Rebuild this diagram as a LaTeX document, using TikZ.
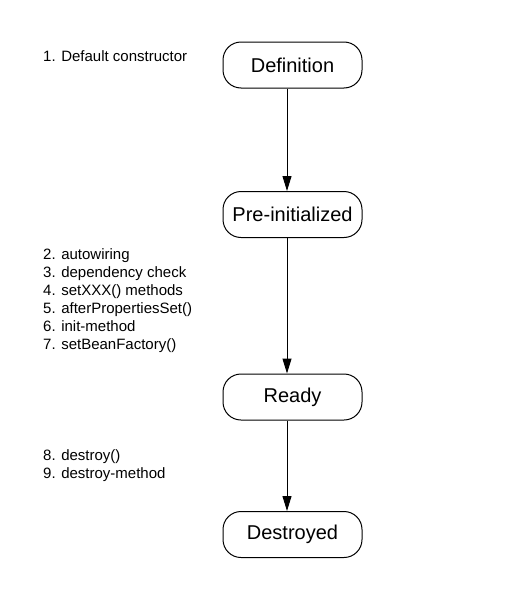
\documentclass[tikz,border=0pt]{standalone}
\usepackage{fontspec}
\setmainfont{Liberation Sans}
\usetikzlibrary{arrows.meta}
\begin{document}
\begin{tikzpicture}[x=1pt,y=1pt,
  state/.style={draw=black, line width=1pt, rounded corners=18pt,
    minimum width=139pt, minimum height=46pt, inner sep=0pt,
    font=\fontsize{20}{24}\selectfont},
  lbl/.style={anchor=base west, inner sep=0pt, font=\fontsize{15}{18}\selectfont},
  flow/.style={draw=black, line width=1pt, -{Triangle[length=15pt,width=9pt]}}]
\useasboundingbox[fill=white] (0,0) rectangle (512,-589);
\node[state] (def) at (292.5,-65) {Definition};
\node[state] (pre) at (292.5,-214.5) {Pre-initialized};
\node[state] (rdy) at (292.5,-397) {Ready};
\node[state] (des) at (292.5,-534.5) {Destroyed};
\draw[flow] ([xshift=-5.5pt]def.south) -- ([xshift=-5.5pt]pre.north);
\draw[flow] ([xshift=-5.5pt]pre.south) -- ([xshift=-5.5pt]rdy.north);
\draw[flow] ([xshift=-5.5pt]rdy.south) -- ([xshift=-5.5pt]des.north);
\node[lbl] (l1) at (43,-61) {1. Default constructor};
\node[lbl] (l2) at (43,-259) {2. autowiring};
\node[lbl] (l3) at (43,-277) {3. dependency check};
\node[lbl] (l4) at (43,-295) {4. setXXX() methods};
\node[lbl] (l5) at (43,-313) {5. afterPropertiesSet()};
\node[lbl] (l6) at (43,-331) {6. init-method};
\node[lbl] (l7) at (43,-349) {7. setBeanFactory()};
\node[lbl] (l8) at (43,-460) {8. destroy()};
\node[lbl] (l9) at (43,-478) {9. destroy-method};
\end{tikzpicture}
\end{document}
